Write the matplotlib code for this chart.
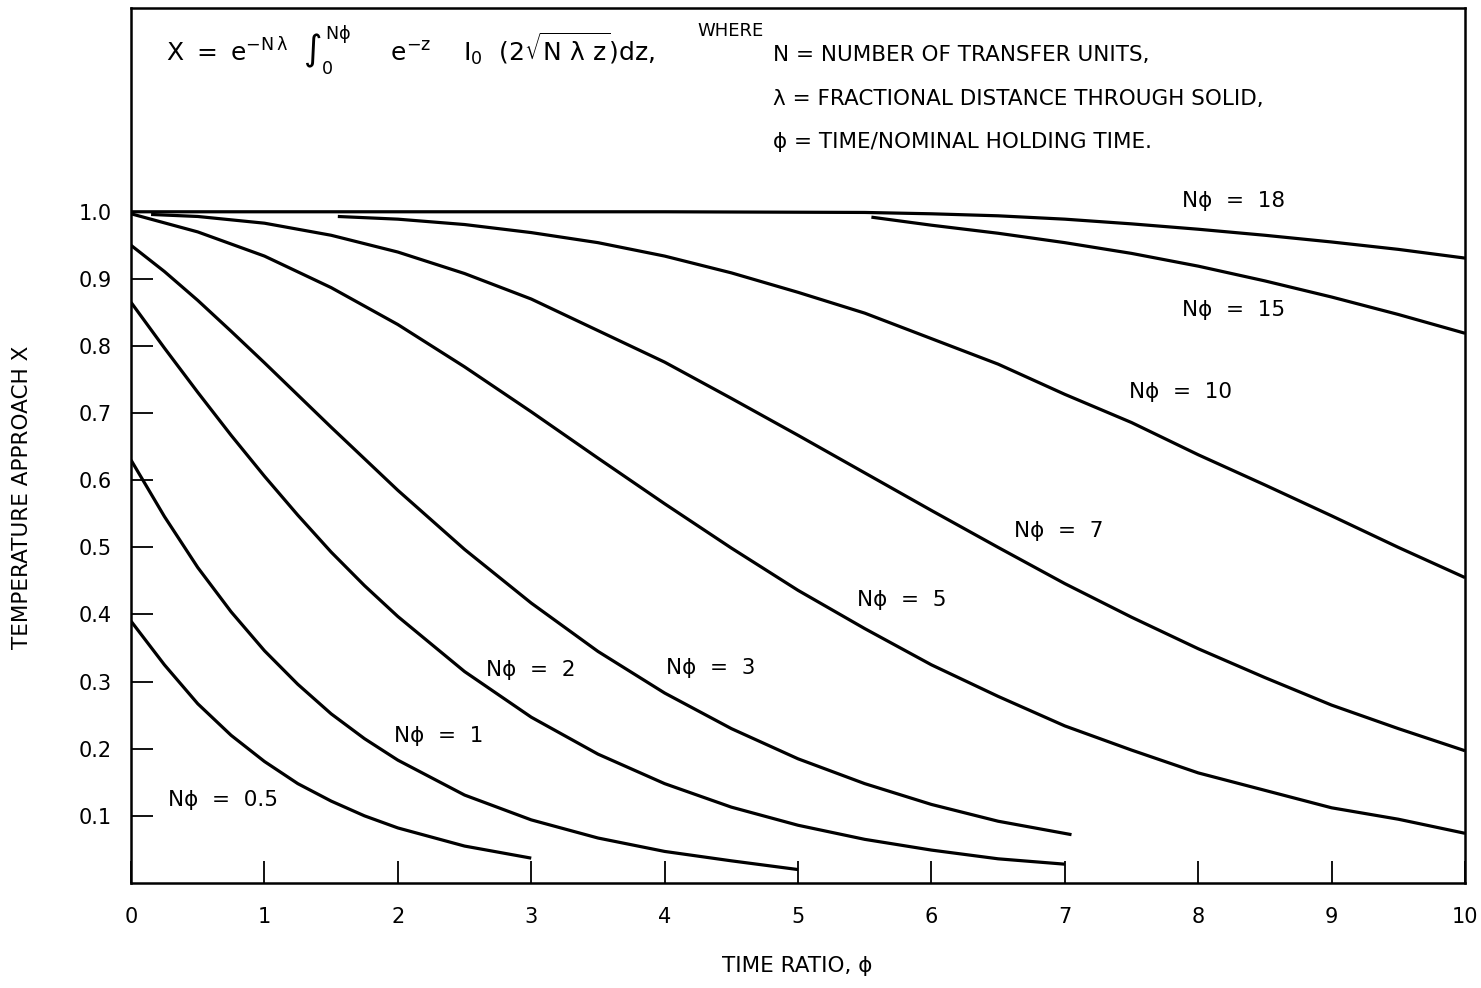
import matplotlib.pyplot as plt

plt.rcParams['font.family'] = ['DejaVu Sans']
plt.rcParams['mathtext.fontset'] = 'dejavusans'
plt.rcParams['mathtext.default'] = 'regular'

# temperature approach X against time ratio, one curve per N*phi
phi_05 = [0, 0.25, 0.5, 0.75, 1.0, 1.25, 1.5, 1.75, 2.0, 2.5, 3.0]
x_05 = [0.39, 0.325, 0.267, 0.220, 0.181, 0.148, 0.122, 0.100, 0.082, 0.055, 0.037]

phi_1 = [0, 0.25, 0.5, 0.75, 1.0, 1.25, 1.5, 1.75, 2.0, 2.5, 3.0, 3.5, 4.0, 4.5, 5.0]
x_1 = [0.630, 0.546, 0.470, 0.404, 0.346, 0.296, 0.252, 0.215, 0.183, 0.131, 0.094,
       0.067, 0.047, 0.033, 0.020]

phi_2 = [0, 0.25, 0.5, 0.75, 1.0, 1.25, 1.5, 1.75, 2.0, 2.5, 3.0, 3.5, 4.0, 4.5,
         5.0, 5.5, 6.0, 6.5, 7.0]
x_2 = [0.865, 0.797, 0.731, 0.667, 0.606, 0.548, 0.493, 0.443, 0.397, 0.315, 0.247,
       0.192, 0.148, 0.113, 0.086, 0.065, 0.049, 0.036, 0.028]

phi_3 = [0, 0.25, 0.5, 0.75, 1.0, 1.5, 2.0, 2.5, 3.0, 3.5, 4.0, 4.5, 5.0, 5.5, 6.0,
         6.5, 7.05]
x_3 = [0.950, 0.911, 0.868, 0.822, 0.775, 0.679, 0.585, 0.497, 0.417, 0.345, 0.283,
       0.230, 0.185, 0.148, 0.117, 0.092, 0.072]

phi_5 = [0, 0.5, 1.0, 1.5, 2.0, 2.5, 3.0, 3.5, 4.0, 4.5, 5.0, 5.5, 6.0, 6.5, 7.0,
         7.5, 8.0, 8.5, 9.0, 9.5, 10.0]
x_5 = [0.997, 0.970, 0.934, 0.887, 0.832, 0.769, 0.702, 0.633, 0.565, 0.499, 0.436,
       0.379, 0.325, 0.278, 0.234, 0.198, 0.164, 0.138, 0.112, 0.095, 0.074]

phi_7 = [0.15, 0.5, 1.0, 1.5, 2.0, 2.5, 3.0, 3.5, 4.0, 4.5, 5.0, 5.5, 6.0, 6.5, 7.0,
         7.5, 8.0, 8.5, 9.0, 9.5, 10.0]
x_7 = [0.996, 0.993, 0.983, 0.965, 0.940, 0.908, 0.870, 0.823, 0.776, 0.722, 0.667,
       0.611, 0.555, 0.500, 0.446, 0.396, 0.349, 0.306, 0.265, 0.230, 0.197]

phi_10 = [1.55, 2.0, 2.5, 3.0, 3.5, 4.0, 4.5, 5.0, 5.5, 6.0, 6.5, 7.0, 7.5, 8.0, 8.5,
          9.0, 9.5, 10.0]
x_10 = [0.993, 0.989, 0.981, 0.969, 0.954, 0.934, 0.909, 0.880, 0.849, 0.811, 0.773,
        0.728, 0.686, 0.638, 0.593, 0.547, 0.500, 0.455]

phi_15 = [5.55, 6.0, 6.5, 7.0, 7.5, 8.0, 8.5, 9.0, 9.5, 10.0]
x_15 = [0.992, 0.980, 0.968, 0.954, 0.938, 0.919, 0.897, 0.873, 0.847, 0.819]

phi_18 = [0, 2.0, 4.0, 5.5, 6.0, 6.5, 7.0, 7.5, 8.0, 8.5, 9.0, 9.5, 10.0]
x_18 = [1.0, 1.0, 1.0, 0.999, 0.997, 0.994, 0.989, 0.982, 0.974, 0.965, 0.955, 0.944,
        0.931]

curves = [(phi_05, x_05), (phi_1, x_1), (phi_2, x_2), (phi_3, x_3), (phi_5, x_5),
          (phi_7, x_7), (phi_10, x_10), (phi_15, x_15), (phi_18, x_18)]

# curve labels: text and where it sits
labels = ['N\u03d5  =  0.5', 'N\u03d5  =  1', 'N\u03d5  =  2', 'N\u03d5  =  3', 'N\u03d5  =  5',
          'N\u03d5  =  7', 'N\u03d5  =  10', 'N\u03d5  =  15', 'N\u03d5  =  18']
label_phi = [0.28, 1.97, 2.66, 4.01, 5.44, 6.62, 7.48, 7.88, 7.88]
label_x = [0.123, 0.219, 0.317, 0.321, 0.421, 0.524, 0.731, 0.853, 1.016]

y_ticks = [0.1, 0.2, 0.3, 0.4, 0.5, 0.6, 0.7, 0.8, 0.9, 1.0]
x_ticks = list(range(11))

fig = plt.figure(figsize=(14.81, 9.88), dpi=100)
ax = fig.add_axes([0.0885, 0.1063, 0.9007, 0.8856])

for phi, xv in curves:
    ax.plot(phi, xv, color='black', lw=2.3, solid_capstyle='butt')

for txt, px, py in zip(labels, label_phi, label_x):
    ax.text(px, py, txt, fontsize=15.5, ha='left', va='center')

ax.set_xlim(0, 10)
ax.set_ylim(0, 1.3036)
ax.set_xticks(x_ticks)
ax.set_yticks(y_ticks)
ax.set_yticklabels(['%.1f' % v for v in y_ticks])
ax.tick_params(direction='in', length=16, width=1.3, labelsize=15, pad=14)
ax.tick_params(axis='x', pad=17)
for sp in ax.spines.values():
    sp.set_linewidth(1.8)

ax.set_xlabel('TIME RATIO, \u03d5', fontsize=15.5)
ax.xaxis.set_label_coords(0.4993, -0.083)
ax.set_ylabel('TEMPERATURE APPROACH X', fontsize=15.5)
ax.yaxis.set_label_coords(-0.074, 0.441)

# defining equation and symbol key in the upper band
fig.text(166 / 1481, 1 - 50 / 988,
         r'$X\ =\ e^{-N\,\lambda}\ \ \int_0^{N\phi}\ \ \ \ \ e^{-z}\ \ \ \ I_0\ \ (2\sqrt{N\ \lambda\ z})dz,$',
         fontsize=18, ha='left', va='center')
fig.text(697 / 1481, 1 - 31 / 988, 'WHERE', fontsize=13, ha='left', va='center')
fig.text(773 / 1481, 1 - 55 / 988, 'N = NUMBER OF TRANSFER UNITS,', fontsize=15.5,
         ha='left', va='center')
fig.text(773 / 1481, 1 - 99 / 988, '\u03bb = FRACTIONAL DISTANCE THROUGH SOLID,',
         fontsize=15.5, ha='left', va='center')
fig.text(773 / 1481, 1 - 142 / 988, '\u03d5 = TIME/NOMINAL HOLDING TIME.', fontsize=15.5,
         ha='left', va='center')

fig.savefig('out.png', dpi=100, facecolor='white')
